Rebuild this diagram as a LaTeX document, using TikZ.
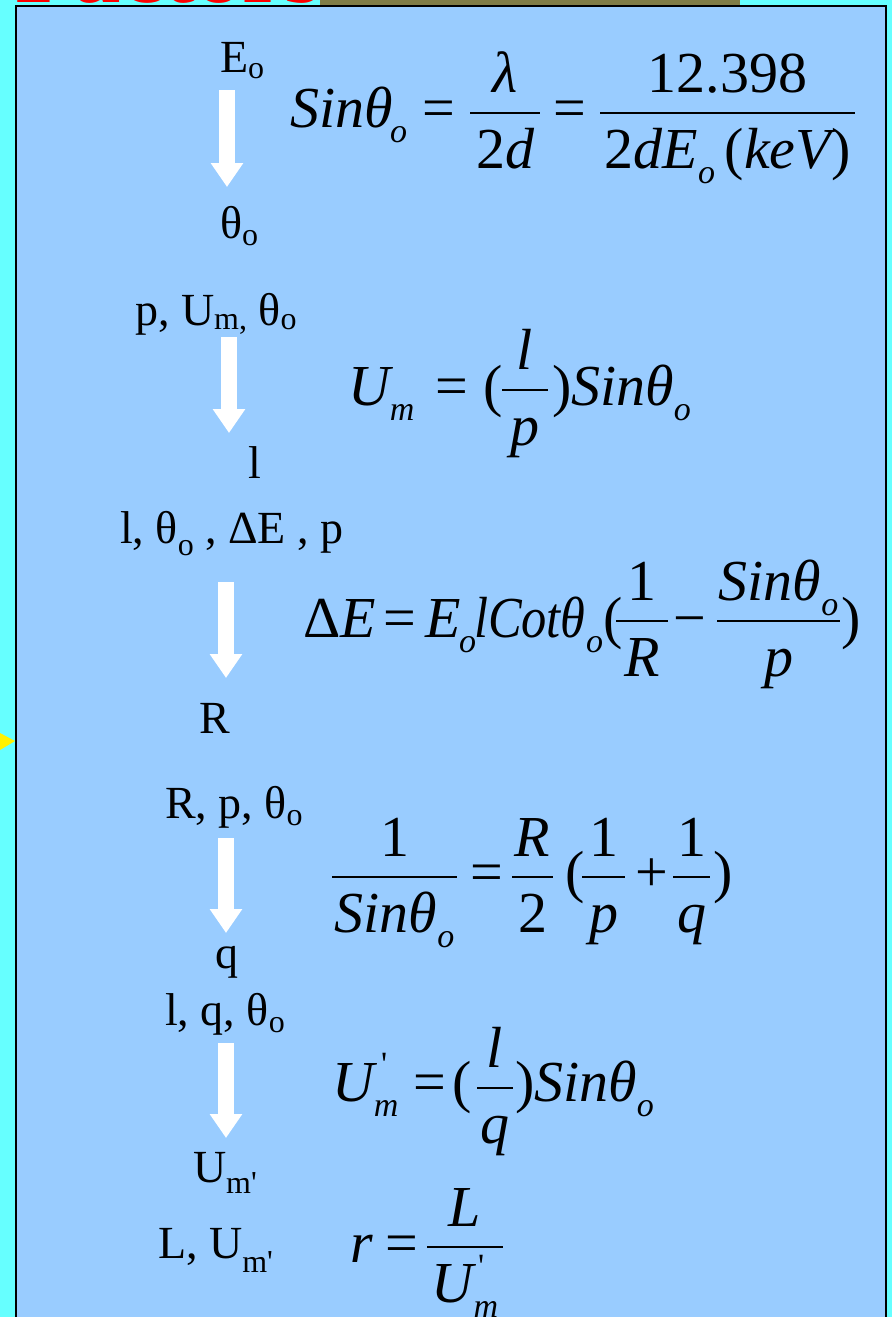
\documentclass[tikz,border=0pt]{standalone}
\usepackage{fontspec}
\setmainfont{Liberation Serif}
\usetikzlibrary{arrows.meta}
\definecolor{bgcyan}{RGB}{102,255,255}
\definecolor{boxblue}{RGB}{153,204,255}
\definecolor{olivebar}{RGB}{128,124,70}
\definecolor{titlered}{RGB}{255,0,0}
\newcommand\lsub[2]{\raisebox{-#1pt}{\fontsize{32}{32}\selectfont #2}}
\newcommand\esub[1]{\raisebox{-15pt}{\fontsize{34}{36}\selectfont\itshape #1}}
\newcommand\up[1]{{\upshape #1}}
\newcommand\sq{\textquotesingle}
\newcommand\efrac[6]{%
  \draw[fracbar] (#2,#4) -- (#3,#4);
  \node[eqn,anchor=base] (#1n) at ({(#2+#3)/2},#4-21) {#5};
  \node[eqn,anchor=base] (#1d) at ({(#2+#3)/2},#4+55) {#6};
}
\begin{document}
\begin{tikzpicture}[x=1pt,y=-1pt,
  lbl/.style={inner sep=0pt,outer sep=0pt,anchor=base west,font=\fontsize{46}{50}\selectfont},
  eqn/.style={inner sep=0pt,outer sep=0pt,anchor=base west,font=\fontsize{58}{62}\selectfont\itshape},
  primemark/.style={inner sep=0pt,outer sep=0pt,anchor=base west,font=\fontsize{34}{36}\selectfont},
  fracbar/.style={line width=2.6pt},
  bigarrow/.style={white,line width=16pt,-{Triangle[width=31pt,length=24pt]}},
  ttl/.style={inner sep=0pt,anchor=base east,text=titlered,font=\fontsize{95}{95}\selectfont\bfseries}]
\useasboundingbox (0,0) rectangle (892,1317);
\fill[bgcyan] (0,0) rectangle (892,1317);
\fill[olivebar] (320,0) rectangle (740,5);
\node[ttl] (title) at (322,2) {Factors};
\fill[boxblue] (16,6) rectangle (886,1340);
\draw[black,line width=2.5pt] (16,6) rectangle (886,1340);
\fill[yellow] (0,733) -- (15,741) -- (0,750) -- cycle;

% left column labels
\node[lbl] (Eo) at (220,72) {E\lsub{6}{o}};
\node[lbl] (t1) at (220,238) {θ\lsub{7}{o}};
\node[lbl] (l2) at (135,325) {p, U\lsub{4}{m,} θ\lsub{4}{o}};
\node[lbl] (l3) at (248,478) {l};
\node[lbl] (l4) at (120,543) {l, θ\lsub{12}{o} , ΔE , p};
\node[lbl] (l5) at (199,733) {R};
\node[lbl] (l6) at (165,818) {R, p, θ\lsub{7}{o}};
\node[lbl] (l7) at (215,968) {q};
\node[lbl] (l8) at (165,1025) {l, q, θ\lsub{7}{o}};
\node[lbl] (l9) at (193,1182) {U\lsub{11}{m\sq}};
\node[lbl] (l10) at (158,1258) {L, U\lsub{14}{m\sq}};

% arrows
\coordinate (a1s) at (227,90);   \coordinate (a1e) at (227,187);
\coordinate (a2s) at (229,337);  \coordinate (a2e) at (229,433);
\coordinate (a3s) at (226,582);  \coordinate (a3e) at (226,678);
\coordinate (a4s) at (226,838);  \coordinate (a4e) at (226,933);
\coordinate (a5s) at (226,1043); \coordinate (a5e) at (226,1138);
\draw[bigarrow] (a1s) -- (a1e);
\draw[bigarrow] (a2s) -- (a2e);
\draw[bigarrow] (a3s) -- (a3e);
\draw[bigarrow] (a4s) -- (a4e);
\draw[bigarrow] (a5s) -- (a5e);

% equation 1
\node[eqn] (e1a) at (290,127) {Sinθ};
\node[eqn] (e1a2) at (390,127) {\esub{o}};
\node[eqn] (e1b) at (422,127) {\up{=}};
\efrac{e1f}{470}{540}{113}{λ}{\up{2}d}
\node[eqn] (e1c) at (553,127) {\up{=}};
\efrac{e1g}{600}{855}{113}{\up{12.398}}{\up{2}dE\esub{o}\,\up{(}keV\up{)}}

% equation 2
\node[eqn] (e2a) at (348,405) {U\esub{m}};
\node[eqn] (e2b) at (435,405) {\up{=}};
\node[eqn] (e2c) at (483,405) {\up{(}};
\efrac{e2f}{502}{548}{390}{l}{p}
\node[eqn] (e2d) at (552,405) {\up{)}Sinθ\esub{o}};

% equation 3
\node[eqn] (e3a) at (303,637) {\up{Δ}E};
\node[eqn] (e3b) at (383,637) {\up{=}};
\node[eqn] (e3c) at (425,637) {E};
\node[eqn] (e3c2) at (459,637) {\esub{o}};
\node[eqn] (e3c3) at (474,637) {\scalebox{0.87}[1]{lCotθ}};
\node[eqn] (e3c4) at (586,637) {\esub{o}};
\node[eqn] (e3c5) at (603,637) {\up{(}};
\efrac{e3f}{616}{668}{621}{\up{1}}{R}
\node[eqn] (e3d) at (673,637) {\up{−}};
\efrac{e3g}{717}{840}{621}{Sinθ\esub{o}}{p}
\node[eqn] (e3e) at (841,637) {\up{)}};

% equation 4
\efrac{e4f}{332}{457}{877}{\up{1}}{Sinθ\esub{o}}
\node[eqn] (e4a) at (470,891) {\up{=}};
\efrac{e4g}{512}{553}{877}{R}{\up{2}}
\node[eqn] (e4b) at (565,891) {\up{(}};
\efrac{e4h}{582}{625}{877}{\up{1}}{p}
\node[eqn] (e4c) at (635,891) {\up{+}};
\efrac{e4i}{673}{710}{877}{\up{1}}{q}
\node[eqn] (e4d) at (713,891) {\up{)}};

% equation 5
\node[eqn] (e5a) at (332,1101) {U\esub{m}};
\node[primemark] (e5p) at (381,1075) {\sq};
\node[eqn] (e5b) at (413,1101) {\up{=}};
\node[eqn] (e5c) at (452,1101) {\up{(}};
\efrac{e5f}{477}{513}{1088}{l}{q}
\node[eqn] (e5d) at (515,1101) {\up{)}Sinθ\esub{o}};

% equation 6
\node[eqn] (e6a) at (350,1262) {r};
\node[eqn] (e6b) at (385,1262) {\up{=}};
\efrac{e6f}{427}{503}{1247}{L}{U\esub{m}}
\node[primemark] (e6p) at (478,1277) {\sq};
\end{tikzpicture}
\end{document}
